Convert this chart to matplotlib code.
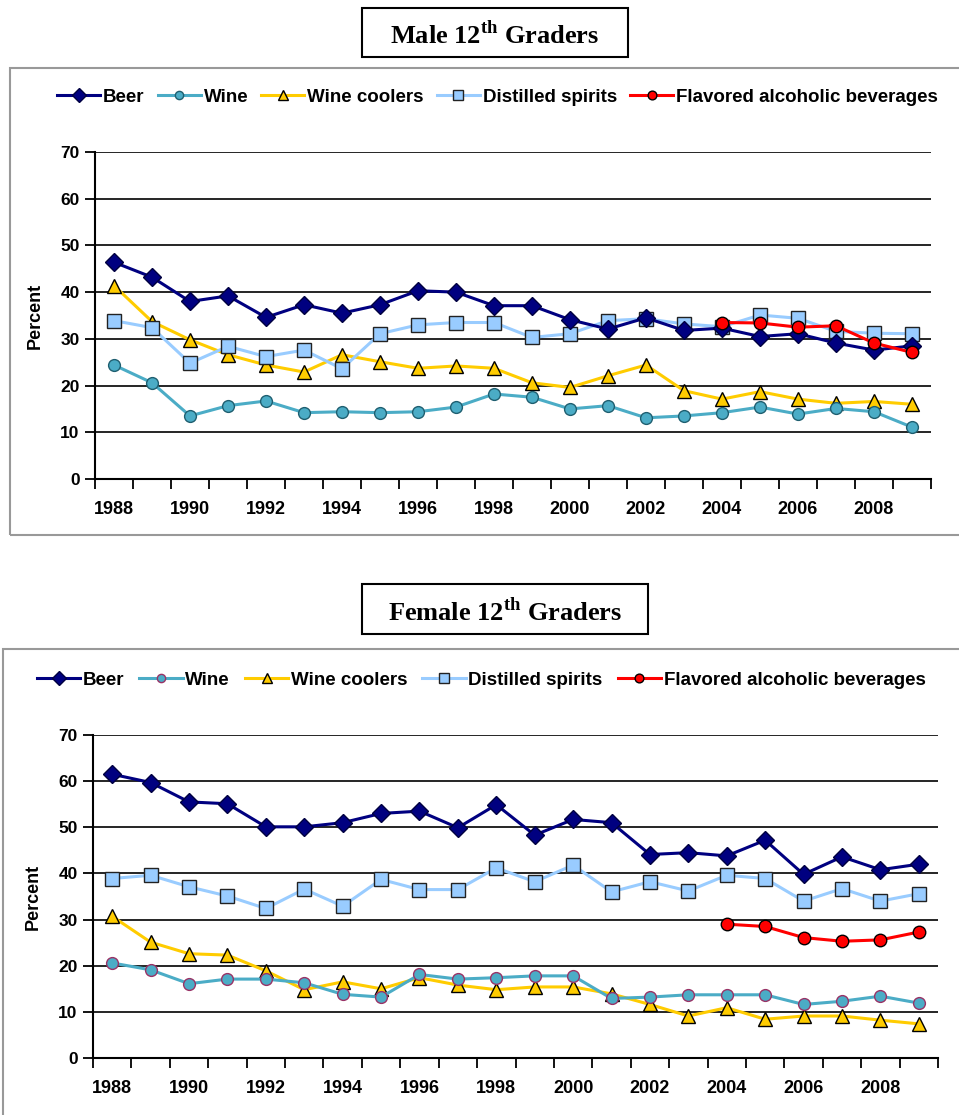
import matplotlib
matplotlib.use("Agg")
import matplotlib.pyplot as plt
from matplotlib.patches import Rectangle
from matplotlib.ticker import FixedLocator, NullFormatter

plt.rcParams["font.family"] = "Liberation Sans"
plt.rcParams["font.weight"] = "bold"
plt.rcParams["mathtext.fontset"] = "custom"
plt.rcParams["mathtext.bf"] = "Liberation Serif:bold"
plt.rcParams["mathtext.rm"] = "Liberation Serif:bold"

years = list(range(1988, 2010))
fab_years = list(range(2004, 2010))

# male 12th graders
male_beer = [46.4, 43.2, 38.0, 39.2, 34.6, 37.3, 35.5, 37.3, 40.3, 40.0,
             37.1, 37.1, 34.1, 32.1, 34.5, 31.8, 32.3, 30.5, 31.1, 29.1, 27.6, 28.5]
male_wine = [24.4, 20.6, 13.5, 15.7, 16.7, 14.2, 14.4, 14.2, 14.4, 15.4,
             18.2, 17.5, 15.0, 15.7, 13.1, 13.5, 14.2, 15.4, 13.9, 15.1, 14.4, 11.1]
male_coolers = [41.4, 33.7, 29.8, 26.6, 24.4, 22.9, 26.6, 25.1, 23.7, 24.2,
                23.7, 20.6, 19.6, 22.1, 24.4, 18.9, 17.1, 18.7, 17.1, 16.2, 16.6, 16.0]
male_spirits = [33.9, 32.4, 24.8, 28.4, 26.2, 27.6, 23.6, 31.1, 33.0, 33.5,
                33.5, 30.3, 31.1, 33.9, 34.3, 33.2, 32.6, 35.1, 34.4, 31.6, 31.2, 31.1]
male_fab = [33.5, 33.4, 32.5, 32.8, 29.1, 27.1]

# female 12th graders
female_beer = [61.5, 59.7, 55.5, 55.1, 50.1, 50.1, 51.0, 53.0, 53.5, 49.9,
               54.9, 48.3, 51.7, 51.0, 44.1, 44.5, 43.8, 47.2, 39.8, 43.6, 40.8, 42.0]
female_wine = [20.6, 19.1, 16.1, 17.1, 17.1, 16.3, 13.8, 13.2, 18.1, 17.1,
               17.4, 17.8, 17.8, 12.9, 13.2, 13.7, 13.7, 13.7, 11.6, 12.3, 13.4, 11.9]
female_coolers = [30.7, 25.1, 22.6, 22.3, 18.9, 14.8, 16.5, 15.0, 17.4, 15.8,
                  14.8, 15.4, 15.4, 13.9, 11.6, 9.1, 10.9, 8.4, 9.1, 9.1, 8.2, 7.4]
female_spirits = [38.9, 39.6, 37.1, 35.1, 32.4, 36.6, 32.9, 38.7, 36.5, 36.5,
                  41.2, 38.2, 41.8, 36.0, 38.2, 36.2, 39.6, 38.9, 34.0, 36.7, 34.0, 35.6]
female_fab = [29.0, 28.5, 26.1, 25.3, 25.6, 27.3]

labels = ["Beer", "Wine", "Wine coolers", "Distilled spirits", "Flavored alcoholic beverages"]

W, H = 959, 1115
fig = plt.figure(figsize=(W / 100, H / 100), dpi=100)


def px_axes(left, top, right, bottom):
    return fig.add_axes([left / W, 1 - bottom / H, (right - left) / W, (bottom - top) / H])


def draw_panel(ax, beer, wine, coolers, spirits, fab, wine_edge, legend_x, legend_y, colsp):
    xi = list(range(len(years)))
    fx = [years.index(y) for y in fab_years]
    ax.plot(xi, beer, color="#000080", lw=2.2, marker="D", ms=9.5,
            mfc="#000080", mec="#000040", label=labels[0], zorder=5)
    ax.plot(xi, wine, color="#4BACC6", lw=2.2, marker="o", ms=8.5,
            mfc="#4BACC6", mec=wine_edge, mew=1.0, label=labels[1], zorder=4)
    ax.plot(xi, coolers, color="#FFCC00", lw=2.2, marker="^", ms=10,
            mfc="#FFCC00", mec="black", mew=1.0, label=labels[2], zorder=3)
    ax.plot(xi, spirits, color="#99CCFF", lw=2.2, marker="s", ms=9.5,
            mfc="#99CCFF", mec="#222222", mew=1.0, label=labels[3], zorder=3)
    ax.plot(fx, fab, color="#FF0000", lw=2.2, marker="o", ms=9,
            mfc="#FF0000", mec="black", mew=1.0, label=labels[4], zorder=6)

    ax.set_xlim(-0.5, len(years) - 0.5)
    ax.set_ylim(0, 70)
    ax.set_yticks(range(0, 71, 10))
    ax.yaxis.grid(True, color="black", lw=1.2)
    ax.set_axisbelow(True)
    for s in ["top", "right"]:
        ax.spines[s].set_visible(False)
    for s in ["left", "bottom"]:
        ax.spines[s].set_linewidth(1.5)
    ax.tick_params(axis="y", length=7, width=1.3, labelsize=12.5, pad=4)
    ax.xaxis.set_major_locator(FixedLocator([i - 0.5 for i in range(len(years) + 1)]))
    ax.xaxis.set_major_formatter(NullFormatter())
    ax.xaxis.set_minor_locator(FixedLocator(list(range(0, len(years), 2))))
    ax.set_xticklabels([str(y) for y in years[::2]], minor=True)
    ax.tick_params(axis="x", which="major", length=7, width=1.3)
    ax.tick_params(axis="x", which="minor", length=0, labelsize=13, pad=16)
    for t in ax.get_yticklabels() + ax.get_xticklabels(minor=True):
        t.set_fontweight("bold")
    ax.set_ylabel("Percent", fontsize=13, fontweight="bold", labelpad=12)

    ax.legend(loc="center left", bbox_to_anchor=(legend_x / W, 1 - legend_y / H),
              bbox_transform=fig.transFigure, ncol=5, frameon=False,
              prop={"weight": "bold", "size": 13.5}, handlelength=2.3,
              handletextpad=0.15, columnspacing=colsp, markerscale=0.7,
              borderpad=0, borderaxespad=0)


# outer chart frames
fig.patches.append(Rectangle((10 / W, 1 - 535 / H), 960 / W, 467 / H,
                             transform=fig.transFigure, fill=False,
                             edgecolor="#999999", lw=1.5))
fig.patches.append(Rectangle((3 / W, -0.01), 970 / W, (1115 - 649) / H + 0.01,
                             transform=fig.transFigure, fill=False,
                             edgecolor="#999999", lw=1.5))

ax1 = px_axes(95, 152, 931, 479)
draw_panel(ax1, male_beer, male_wine, male_coolers, male_spirits, male_fab,
           "#1F5F70", 57, 97, 0.7)
ax2 = px_axes(93, 735, 938, 1058)
draw_panel(ax2, female_beer, female_wine, female_coolers, female_spirits, female_fab,
           "#993366", 37, 680, 0.8)

# titles in boxes
for title, (l, t, r, b) in [(r"Male 12$^{\mathbf{th}}$ Graders", (362, 8, 628, 57)),
                            (r"Female 12$^{\mathbf{th}}$ Graders", (362, 584, 648, 634))]:
    fig.patches.append(Rectangle((l / W, 1 - b / H), (r - l) / W, (b - t) / H,
                                 transform=fig.transFigure, fill=False,
                                 edgecolor="black", lw=1.5))
    fig.text((l + r) / 2 / W, 1 - (t + b) / 2 / H - 0.002, title,
             family="Liberation Serif", fontweight="bold", fontsize=19,
             ha="center", va="center")

fig.savefig("out.png", dpi=100)
